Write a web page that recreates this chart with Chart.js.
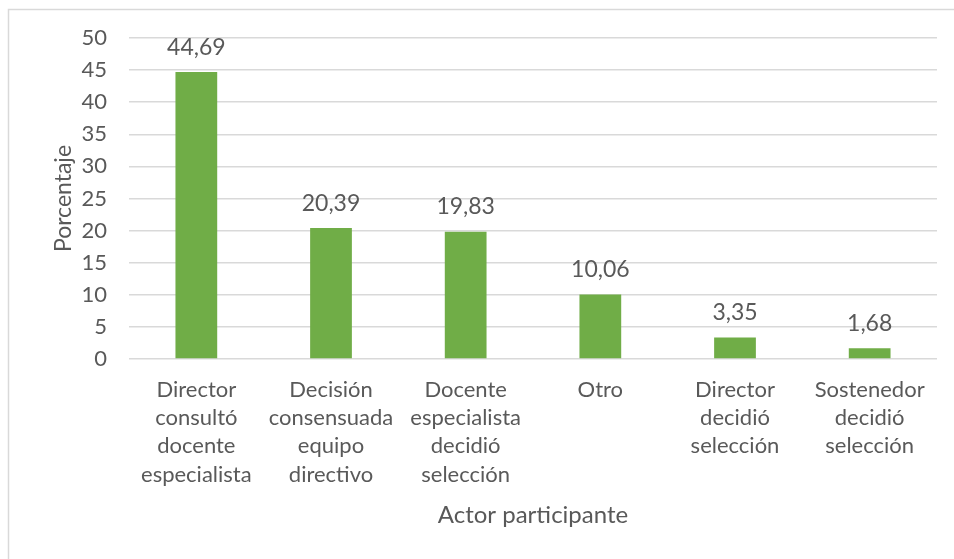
<!DOCTYPE html>
<html>
<head>
<meta charset="utf-8">
<script src="https://cdn.jsdelivr.net/npm/chart.js@4.4.0/dist/chart.umd.min.js"></script>
<style>
  html, body { margin: 0; padding: 0; background: #fff; }
  #wrap { width: 954px; height: 559px; position: relative; }
</style>
</head>
<body>
<div id="wrap"><canvas id="barChart" width="954" height="559"></canvas></div>
<script>
// data
const categories = [
    ['Director', 'consultó', 'docente', 'especialista'],
    ['Decisión', 'consensuada', 'equipo', 'directivo'],
    ['Docente', 'especialista', 'decidió', 'selección'],
    ['Otro'],
    ['Director', 'decidió', 'selección'],
    ['Sostenedor', 'decidió', 'selección']
];
const porcentajes = [44.69, 20.39, 19.83, 10.06, 3.35, 1.68];
const yTicks = [0, 5, 10, 15, 20, 25, 30, 35, 40, 45, 50];

const textColor = '#595959';
const gridColor = '#d9d9d9';
const fontFamily = 'Lato, "Open Sans", sans-serif';

// partial frame (top + left) like the cropped Excel chart
const framePlugin = {
    id: 'frame',
    beforeDraw(chart) {
        const ctx = chart.ctx;
        ctx.save();
        ctx.strokeStyle = gridColor;
        ctx.lineWidth = 1.5;
        ctx.beginPath();
        ctx.moveTo(8.5, chart.height);
        ctx.lineTo(8.5, 9.5);
        ctx.lineTo(chart.width, 9.5);
        ctx.stroke();
        ctx.restore();
    }
};

// value labels above each bar
const valueLabels = {
    id: 'valueLabels',
    afterDatasetsDraw(chart) {
        const ctx = chart.ctx;
        const meta = chart.getDatasetMeta(0);
        ctx.save();
        ctx.fillStyle = textColor;
        ctx.font = '23px ' + fontFamily;
        ctx.textAlign = 'center';
        ctx.textBaseline = 'middle';
        meta.data.forEach((bar, i) => {
            const txt = porcentajes[i].toFixed(2).replace('.', ',');
            ctx.fillText(txt, bar.x, bar.y - 25);
        });
        ctx.restore();
    }
};

const ctx = document.getElementById('barChart').getContext('2d');
new Chart(ctx, {
    type: 'bar',
    data: {
        labels: categories,
        datasets: [{
            data: porcentajes,
            backgroundColor: '#70ad47',
            categoryPercentage: 1,
            barPercentage: 0.31
        }]
    },
    options: {
        responsive: false,
        animation: false,
        layout: { padding: { top: 38, left: 50, right: 17, bottom: 29 } },
        plugins: {
            legend: { display: false },
            tooltip: { enabled: false }
        },
        scales: {
            x: {
                grid: { display: false, drawTicks: false },
                border: { display: false },
                ticks: {
                    color: textColor,
                    padding: 17,
                    maxRotation: 0,
                    autoSkip: false,
                    font: { family: fontFamily, size: 22, lineHeight: 1.28 }
                },
                title: {
                    display: true,
                    text: 'Actor participante',
                    color: textColor,
                    padding: 0,
                    font: { family: fontFamily, size: 24 }
                },
                afterFit(scale) { scale.height = 171; }
            },
            y: {
                min: 0,
                max: 50,
                afterBuildTicks(scale) {
                    scale.ticks = yTicks.map(v => ({ value: v }));
                },
                grid: { color: gridColor, lineWidth: 1.5, drawTicks: false },
                border: { display: false },
                ticks: {
                    color: textColor,
                    padding: 22,
                    font: { family: fontFamily, size: 22 }
                },
                title: {
                    display: true,
                    text: 'Porcentaje',
                    color: textColor,
                    padding: 0,
                    font: { family: fontFamily, size: 23 }
                },
                afterFit(scale) { scale.width = 79; }
            }
        }
    },
    plugins: [framePlugin, valueLabels]
});
</script>
</body>
</html>
